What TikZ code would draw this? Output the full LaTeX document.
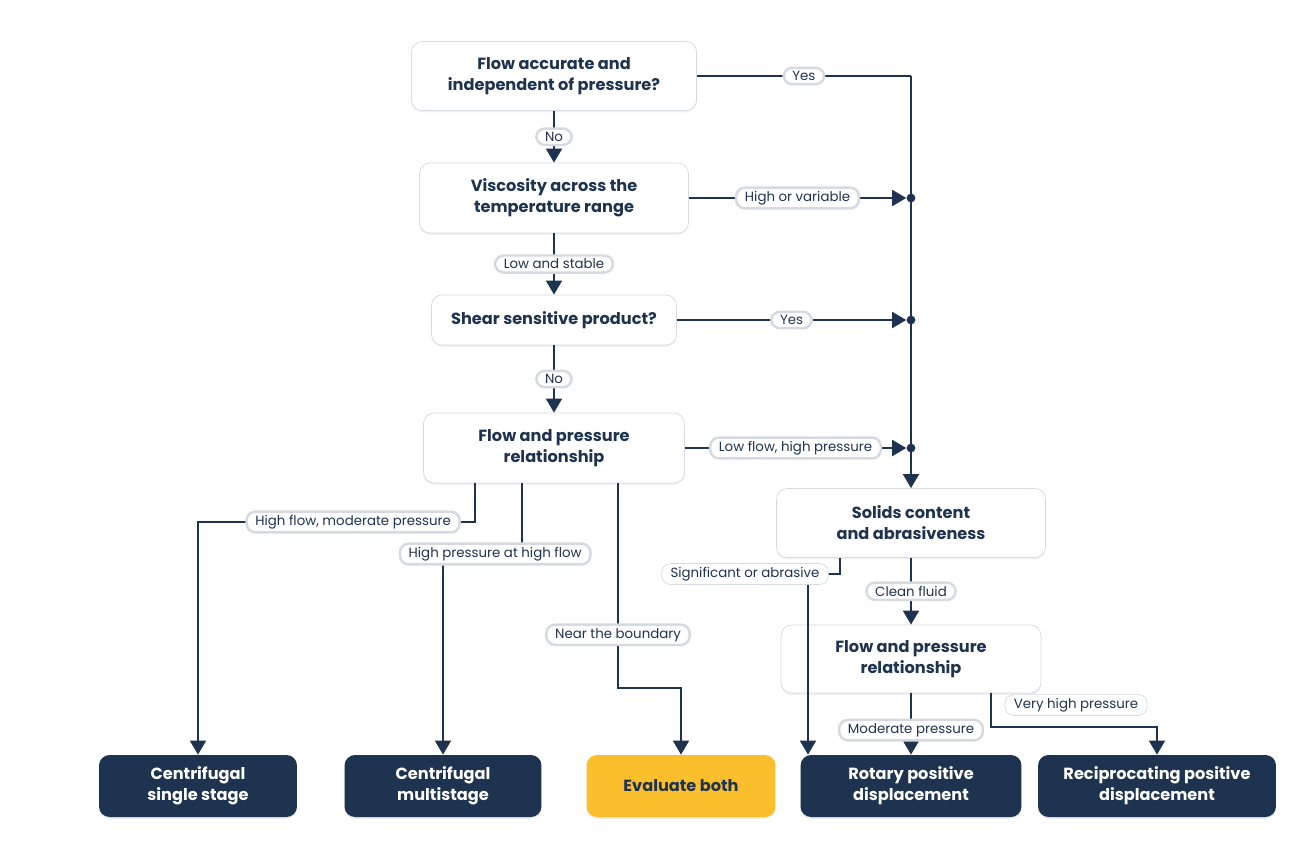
\documentclass[tikz,border=0pt]{standalone}
\usepackage{fontspec}
\setmainfont{Poppins}
\usetikzlibrary{arrows.meta,shadows}
\definecolor{navy}{HTML}{1E3350}
\definecolor{amber}{HTML}{FBBF2E}
\definecolor{edge}{HTML}{D5DAE0}
\tikzset{
  question/.style={draw=edge,fill=white,rounded corners=6pt,align=center,
    font=\fontsize{9.2}{12}\selectfont\bfseries,text=navy,
    drop shadow={shadow xshift=0pt,shadow yshift=-1pt,opacity=.12}},
  leaf/.style={fill=navy,rounded corners=6pt,align=center,minimum height=1.24cm,
    font=\fontsize{9.2}{12}\selectfont\bfseries,text=white,
    drop shadow={shadow xshift=0pt,shadow yshift=-1pt,opacity=.15}},
  pill/.style={draw=edge,fill=white,rounded corners=5pt,inner xsep=5pt,inner ysep=2pt,
    font=\fontsize{7.6}{9}\selectfont,text=navy},
  link/.style={navy,line width=1.4pt,-{Triangle[length=8pt,width=9pt]}},
  plain/.style={navy,line width=1.4pt},
  joint/.style={circle,fill=navy,inner sep=0pt,minimum size=5pt}
}
\begin{document}
\begin{tikzpicture}[x=0.02cm,y=-0.02cm]
\useasboundingbox (0,0) rectangle (1300,853);

% questions
\node[question,minimum width=5.7cm,minimum height=1.38cm] (flowacc) at (554,76) {Flow accurate and\\independent of pressure?};
\node[question,minimum width=5.38cm,minimum height=1.4cm] (visc) at (554,198) {Viscosity across the\\temperature range};
\node[question,minimum width=4.9cm,minimum height=1.0cm] (shear) at (554,320) {Shear sensitive product?};
\node[question,minimum width=5.22cm,minimum height=1.4cm] (flowrel) at (554,448) {Flow and pressure\\relationship};
\node[question,minimum width=5.38cm,minimum height=1.38cm] (solids) at (911,523) {Solids content\\and abrasiveness};
\node[question,minimum width=5.2cm,minimum height=1.36cm] (flowrelb) at (911,659) {Flow and pressure\\relationship};

% outcomes
\node[leaf,minimum width=3.96cm] (single) at (198,786) {Centrifugal\\single stage};
\node[leaf,minimum width=3.94cm] (multi) at (443,786) {Centrifugal\\multistage};
\node[leaf,fill=amber,text=navy,minimum width=3.78cm] (both) at (681,786) {Evaluate both};
\node[leaf,minimum width=4.42cm] (rotary) at (911,786) {Rotary positive\\displacement};
\node[leaf,minimum width=4.76cm] (recip) at (1157,786) {Reciprocating positive\\displacement};

% junctions on the right trunk
\coordinate (trunk) at (911,76);
\node[joint] (jvisc) at (911,198) {};
\node[joint] (jshear) at (911,320) {};
\node[joint] (jflow) at (911,448) {};

% main column
\draw[link] (flowacc) -- node[pill] {No} (visc);
\draw[link] (visc) -- node[pill] {Low and stable} (shear);
\draw[link] (shear) -- node[pill] {No} (flowrel);

% to the trunk
\draw[plain] (flowacc.east) -- node[pill] {Yes} (trunk);
\draw[link] (trunk) -- (solids.north);
\draw[link] (visc.east) -- node[pill] {High or variable} (jvisc.west);
\draw[link] (shear.east) -- node[pill] {Yes} (jshear.west);
\draw[link] (flowrel.east) -- node[pill] {Low flow, high pressure} (jflow.west);

% first relationship branches
\coordinate (hfm) at (475,522);
\coordinate (hph) at (522,554);
\coordinate (ntb) at (618,688);
\draw[link] (flowrel.south -| hfm) |- (hfm) -| node[pill,pos=0.22] {High flow, moderate pressure} (single.north);
\draw[link] (flowrel.south -| hph) |- (hph) -| node[pill,pos=0.17] {High pressure at high flow} (multi.north);
\draw[link] (flowrel.south -| ntb) -- node[pill,pos=0.74] {Near the boundary} (ntb) -| (both.north);

% solids branches
\coordinate (abr) at (840,574);
\draw[link] (solids.south -| abr) -- (abr) -| (rotary.north -| 808,0);
\node[pill] (abrlabel) at (745,574) {Significant or abrasive};
\draw[link] (solids) -- node[pill] {Clean fluid} (flowrelb);

% second relationship branches
\coordinate (vhp) at (991,727);
\draw[link] (flowrelb) -- node[pill,pos=0.6] {Moderate pressure} (rotary);
\draw[link] (flowrelb.south -| vhp) -- (vhp) -| (recip.north);
\node[pill] (vhplabel) at (1076,705) {Very high pressure};
\end{tikzpicture}
\end{document}
